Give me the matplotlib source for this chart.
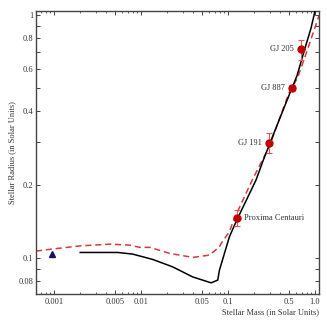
import numpy as np
import matplotlib.pyplot as plt
from matplotlib.ticker import FixedLocator, NullFormatter

plt.rcParams['font.family'] = ['Liberation Serif', 'DejaVu Serif']
plt.rcParams['font.size'] = 6

# solid model track (mass, radius) in solar units
black_mass = [0.0020, 0.0054, 0.0080, 0.0136, 0.0231, 0.0391, 0.0640, 0.0762,
              0.0797, 0.1037, 0.125, 0.21, 0.252, 0.30, 0.40, 0.52, 0.62,
              0.76, 0.90, 1.00]
black_radius = [0.1052, 0.1052, 0.1036, 0.0985, 0.0918, 0.0835, 0.0789, 0.0810,
                0.0890, 0.122, 0.142, 0.209, 0.250, 0.293, 0.38, 0.48, 0.56,
                0.72, 0.88, 1.035]

# dashed model track
red_mass = [0.00062, 0.00094, 0.0020, 0.0044, 0.0074, 0.0097, 0.0126, 0.0213,
            0.0394, 0.0612, 0.0797, 0.0834, 0.1037, 0.118, 0.19, 0.30, 0.50,
            0.63, 0.80, 1.11]
red_radius = [0.1066, 0.1086, 0.1120, 0.1138, 0.1128, 0.1104, 0.1104, 0.1043,
              0.1004, 0.1026, 0.1109, 0.1146, 0.128, 0.145, 0.209, 0.288, 0.475,
              0.55, 0.70, 0.99]

# measured stars
star_names = ['Proxima Centauri', 'GJ 191', 'GJ 887', 'GJ 205']
star_mass = [0.126, 0.297, 0.542, 0.69]
star_radius = [0.146, 0.297, 0.50, 0.72]
star_err = [0.011, 0.028, 0.013, 0.068]

# planet-mass object
obj_mass = [0.00095]
obj_radius = [0.1033]

xticks = [0.001, 0.005, 0.01, 0.05, 0.1, 0.5, 1.0]
xticklabels = ['0.001', '0.005', '0.01', '0.05', '0.1', '0.5', '1.0']
yticks = [0.08, 0.09, 0.1, 0.2, 0.3, 0.4, 0.5, 0.6, 0.7, 0.8, 0.9, 1.0]
yticklabels = ['0.08', '', '0.1', '0.2', '', '0.4', '', '0.6', '', '0.8', '', '1']

text_col = '#333333'

fig = plt.figure(figsize=(3.27, 3.25), dpi=100)
ax = fig.add_axes([0.110, 0.0954, 0.8654, 0.8708])
ax.set_xscale('log')
ax.set_yscale('log')

ax.plot(red_mass, red_radius, color='#d43a3a', lw=1.1, dashes=(4, 2.5), zorder=2)
ax.plot(black_mass, black_radius, color='black', lw=1.1, zorder=3)

ax.errorbar(star_mass, star_radius, yerr=star_err, fmt='o', color='#c00000',
            ms=5, ecolor='#e05858', elinewidth=0.8, capsize=2.2, capthick=0.8,
            zorder=4)
ax.plot(obj_mass, obj_radius, '^', color='#141464', ms=4.5, zorder=4)

for name, m, r in zip(star_names, star_mass, star_radius):
    if name.startswith('Proxima'):
        ax.annotate(name, (m, r), xytext=(5, 0), textcoords='offset points',
                    ha='left', va='center', color=text_col, fontsize=6)
    else:
        ax.annotate(name, (m, r), xytext=(-5, 0), textcoords='offset points',
                    ha='right', va='center', color=text_col, fontsize=6)

ax.set_xlim(0.00062, 1.11)
ax.set_ylim(0.071, 1.035)

ax.xaxis.set_major_locator(FixedLocator(xticks))
ax.set_xticklabels(xticklabels)
minor_x = [k * 10.0 ** e for e in range(-4, 1) for k in range(2, 10)]
minor_x = [v for v in minor_x if v not in xticks]
ax.xaxis.set_minor_locator(FixedLocator(minor_x))
ax.xaxis.set_minor_formatter(NullFormatter())

ax.yaxis.set_major_locator(FixedLocator(yticks))
ax.set_yticklabels(yticklabels)
ax.yaxis.set_minor_locator(FixedLocator([]))

ax.tick_params(which='both', direction='in', top=True, right=True,
               colors='#444444', labelcolor=text_col, labelsize=6)
ax.tick_params(which='major', length=3.2, width=0.7)
ax.tick_params(which='minor', length=1.6, width=0.6)
ax.tick_params(axis='x', pad=3)
ax.tick_params(axis='y', pad=2)

for sp in ax.spines.values():
    sp.set_color('#444444')
    sp.set_linewidth(1.0)

ax.set_xlabel('Stellar Mass (in Solar Units)', loc='right', color=text_col,
              fontsize=6, labelpad=1.5)
ax.set_ylabel('Stellar Radius (in Solar Units)', color=text_col, fontsize=6,
              labelpad=1.5)

fig.savefig('out.png', dpi=100)
